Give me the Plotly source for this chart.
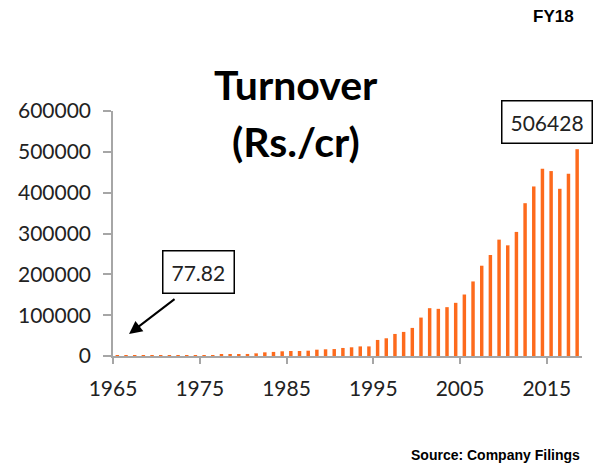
import plotly.graph_objects as go

bar_color = '#fd6a1c'
axis_color = '#a6a6a6'
text_color = '#222222'

years = list(range(1965, 2019))
# turnover, Rs. crore (early years too small to see)
turnover = [
    77.82, 110, 160, 230, 300, 380, 450, 550, 700, 1100,
    1800, 2300, 2700, 3200, 4000, 5000, 6500, 9000, 10000, 11500,
    12300, 12300, 13000, 15500, 16400, 17000, 19700, 21300, 23500, 23500,
    39300, 43400, 54000, 59000, 68800, 94100, 117100, 115500, 119600, 130200,
    150600, 182600, 221100, 247300, 285000, 271000, 303900, 374200, 415200, 458700,
    452900, 409500, 446400, 506428,
]

x_ticks = [1965, 1975, 1985, 1995, 2005, 2015]
y_ticks = [0, 100000, 200000, 300000, 400000, 500000, 600000]

# plot area in pixels
L, R, T, B = 113, 582, 111, 356

fig = go.Figure(go.Bar(
    x=years,
    y=turnover,
    width=0.4,
    offset=0.3,
    marker=dict(color=bar_color, line=dict(width=0)),
))

fig.update_layout(
    width=593, height=466,
    margin=dict(l=L, r=593 - R, t=T, b=466 - B),
    plot_bgcolor='white', paper_bgcolor='white',
    showlegend=False,
    font=dict(family='Lato', size=21, color=text_color),
    xaxis=dict(
        range=[1965, 2019.06],
        tickvals=x_ticks,
        ticktext=[str(t) for t in x_ticks],
        showgrid=False, zeroline=False,
        showline=True, linecolor=axis_color, linewidth=1.5,
        ticks='outside', ticklen=6, tickcolor=axis_color, tickwidth=1.5,
        ticklabelstandoff=7,
    ),
    yaxis=dict(
        range=[0, 600000],
        tickvals=y_ticks,
        tickformat='d',
        showgrid=False, zeroline=False,
        showline=True, linecolor=axis_color, linewidth=1.5,
        ticks='outside', ticklen=8, tickcolor=axis_color, tickwidth=1.5,
        ticklabelstandoff=8,
    ),
)

def px_x(p):
    return (p - L) / (R - L)

def px_y(p):
    return (B - p) / (B - T)

# title
for txt, cy in [('Turnover', 84), ('(Rs./cr)', 141)]:
    fig.add_annotation(
        text='<b>' + txt + '</b>', xref='paper', yref='paper',
        x=px_x(296), y=px_y(cy),
        showarrow=False, xanchor='center', yanchor='middle',
        font=dict(family='Lato', size=41, color='black'),
    )

# value boxes
fig.add_annotation(
    text='77.82', xref='paper', yref='paper',
    x=px_x(198), y=px_y(272),
    showarrow=False, xanchor='center', yanchor='middle',
    font=dict(family='Lato', size=21, color=text_color),
    bordercolor='black', borderwidth=1.5, borderpad=8, bgcolor='white',
)
fig.add_annotation(
    text=f'{turnover[-1]:.0f}', xref='paper', yref='paper',
    x=px_x(547), y=px_y(122),
    showarrow=False, xanchor='center', yanchor='middle',
    font=dict(family='Lato', size=21, color=text_color),
    bordercolor='black', borderwidth=1.5, borderpad=8, bgcolor='white',
)

# arrow towards the first year
fig.add_annotation(
    text='', xref='x', yref='y', x=1966.85, y=54000,
    showarrow=True, ax=47, ay=-36,
    arrowhead=2, arrowsize=1.3, arrowwidth=2, arrowcolor='black',
)

# corner texts
fig.add_annotation(
    text='<b>FY18</b>', xref='paper', yref='paper',
    x=px_x(576), y=px_y(16), xanchor='right', yanchor='middle',
    showarrow=False, font=dict(family='Liberation Sans', size=17, color='black'),
)
fig.add_annotation(
    text='<b>Source: Company Filings</b>', xref='paper', yref='paper',
    x=px_x(582), y=px_y(455), xanchor='right', yanchor='middle',
    showarrow=False, font=dict(family='Liberation Sans', size=14, color='black'),
)

fig.write_html("out.html", config={'displayModeBar': False},
               post_script="document.body.style.margin='0';")
